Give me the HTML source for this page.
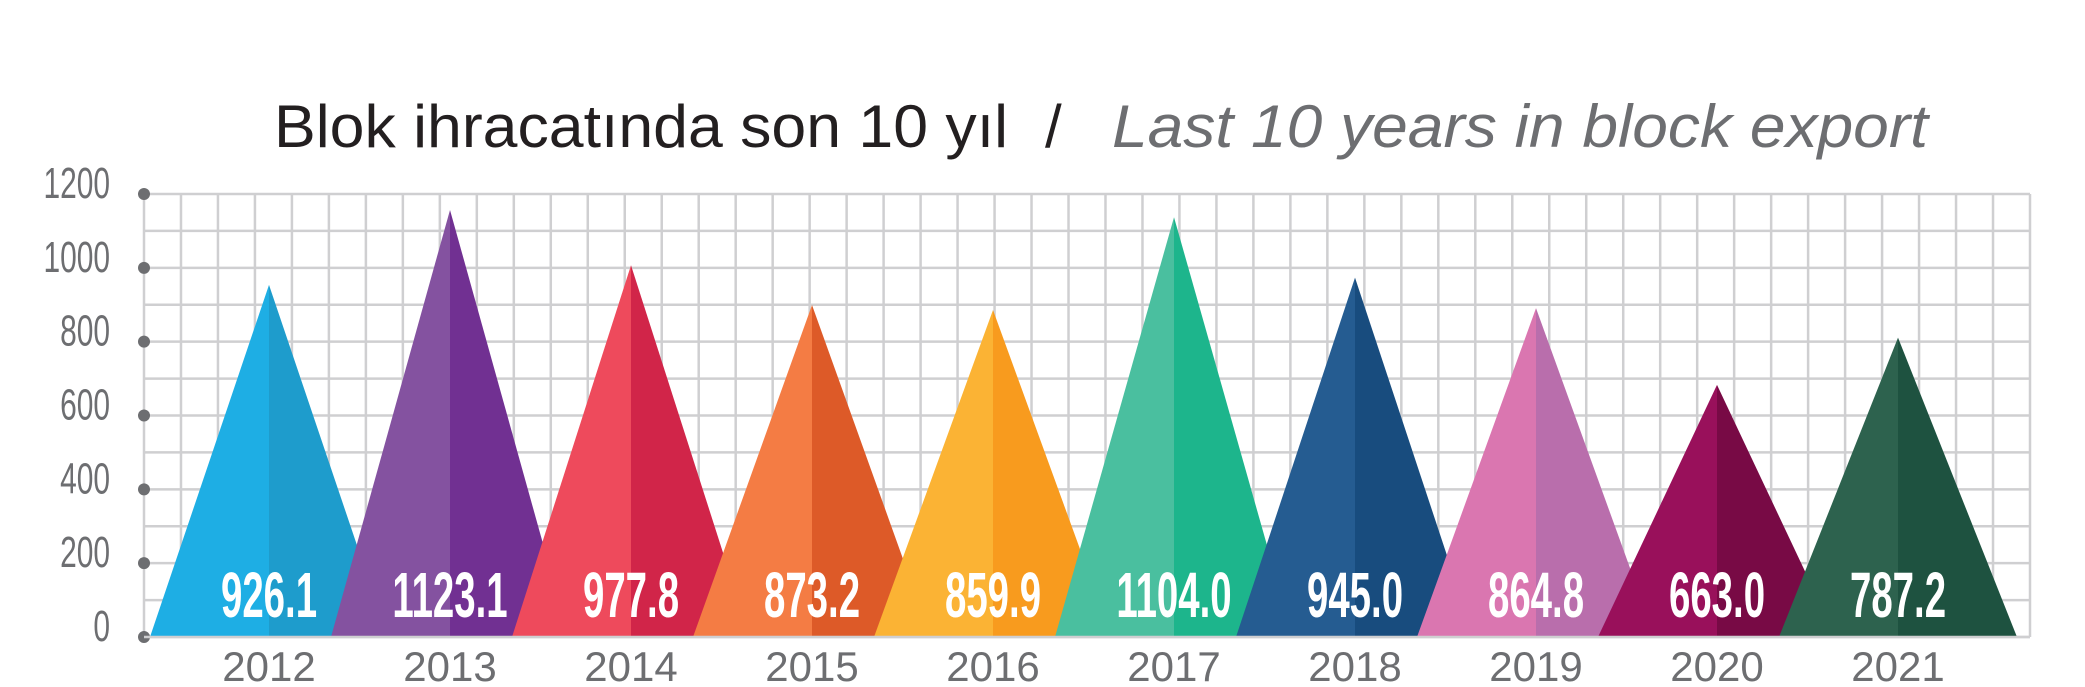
<!DOCTYPE html>
<html><head><meta charset="utf-8"><style>html,body{margin:0;padding:0;background:#fff}svg{display:block}</style></head>
<body>
<svg width="2085" height="687" viewBox="0 0 2085 687" xmlns="http://www.w3.org/2000/svg">
<g font-family="Liberation Sans, sans-serif">
<text x="274" y="147" font-size="60" fill="#231f20" textLength="734" lengthAdjust="spacingAndGlyphs">Blok ihracatında son 10 yıl</text>
<text x="1045" y="147" font-size="60" fill="#231f20">/</text>
<text x="1112" y="147" font-size="60" font-style="italic" fill="#6d6e71" textLength="816" lengthAdjust="spacingAndGlyphs">Last 10 years in block export</text>
</g>
<g id="grid" stroke="#cfcfd1" stroke-width="2.5" fill="none"></g>
<g id="tri"></g>
<g id="lab" font-family="Liberation Sans, sans-serif"></g>
<script>
var NS="http://www.w3.org/2000/svg";
var g=document.getElementById('grid'),t=document.getElementById('tri'),l=document.getElementById('lab');
var L=144,R=2030,T=194,B=637;
function el(p,n,a,txt){var e=document.createElementNS(NS,n);for(var k in a)e.setAttribute(k,a[k]);if(txt!=null)e.textContent=txt;p.appendChild(e);return e;}
for(var i=0;i<=12;i++){var y=T+(B-T)*i/12;el(g,'line',{x1:L,x2:R,y1:y,y2:y});}
var n=51;for(var i=0;i<=n;i++){var x=L+(R-L)*i/n;el(g,'line',{x1:x,x2:x,y1:T,y2:B});}
var d=[[926.1,'#1eaee4','#1e9ccc'],[1123.1,'#8452a0','#713092'],[977.8,'#ee4a5c','#d12549'],[873.2,'#f47c44','#dd5a28'],[859.9,'#fbb334','#f89b1e'],[1104.0,'#4abf9f','#1db58c'],[945.0,'#255c91','#184c7e'],[864.8,'#da76b0','#b96eac'],[663.0,'#99105b','#780a45'],[787.2,'#2d624e','#1e5240']];
var h=119;
d.forEach(function(v,i){var c=269+181*i;var ay=B-v[0]*(B-T)/1200*1.03;
el(t,'polygon',{points:(c-h)+','+B+' '+c+','+ay+' '+c+','+B,fill:v[1]});
el(t,'polygon',{points:c+','+B+' '+c+','+ay+' '+(c+h)+','+B,fill:v[2]});
el(l,'text',{x:0,y:0,'font-size':64,'font-weight':'bold',fill:'#fff','text-anchor':'middle',transform:'translate('+c+',617) scale(0.6,1)'},v[0].toFixed(1));
el(l,'text',{x:c,y:681,'font-size':42,fill:'#6d6e71','text-anchor':'middle'},String(2012+i));
});
for(var i=0;i<=6;i++){var y=B-(B-T)*i/6;
el(l,'circle',{cx:L,cy:y,r:6,fill:'#6d6e71'});
el(l,'text',{x:0,y:0,'font-size':44,fill:'#6d6e71','text-anchor':'end',transform:'translate(110,'+(y+4)+') scale(0.68,1)'},String(i*200));}
el(l,'line',{x1:L,x2:R,y1:B,y2:B,stroke:'#cfcfd1','stroke-width':2.5});
</script>
</svg>
</body></html>
